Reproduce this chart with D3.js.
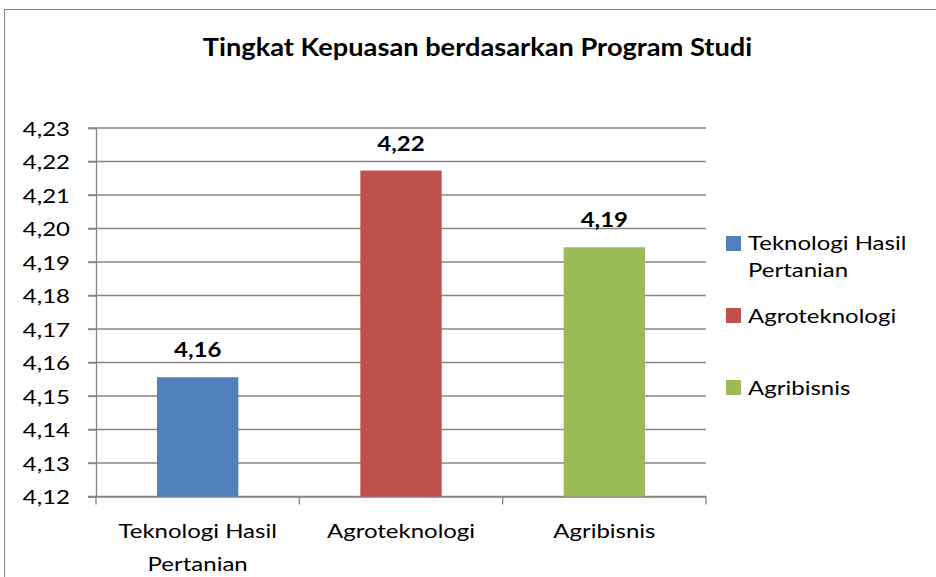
<!DOCTYPE html>
<html><head><meta charset="utf-8">
<script src="https://cdn.jsdelivr.net/npm/d3@7"></script>
<style>
body{margin:0;background:#fff;}
text{font-family:Lato,"Open Sans",sans-serif;fill:#000;}
</style></head>
<body><svg id="chart" width="936" height="577"></svg>
<script>
const categories = ["Teknologi Hasil Pertanian", "Agroteknologi", "Agribisnis"];
const categoryLines = [["Teknologi Hasil", "Pertanian"], ["Agroteknologi"], ["Agribisnis"]];
const values = [4.1556, 4.2173, 4.1944];
const labels = ["4,16", "4,22", "4,19"];
const colors = ["#4F81BD", "#C0504D", "#9BBB59"];
const yTicks = [4.12, 4.13, 4.14, 4.15, 4.16, 4.17, 4.18, 4.19, 4.20, 4.21, 4.22, 4.23];
const title = "Tingkat Kepuasan berdasarkan Program Studi";

const SX = 1.2; // horizontal stretch of the reference rendering
const svg = d3.select("#chart");
const loc = d3.formatLocale({decimal: ",", thousands: ".", grouping: [3], currency: ["", ""]});
const fmt = loc.format(".2f");

const plot = {left: 96, right: 706, top: 128, bottom: 496.5};
const x = d3.scaleBand().domain(categories).range([plot.left, plot.right]).paddingInner(0.6).paddingOuter(0.3);
const xb = d3.scaleBand().domain(categories).range([plot.left, plot.right]);
const y = d3.scaleLinear().domain([4.12, 4.23]).range([plot.bottom, plot.top]);

function stretchedText(parent, px, py, sx) {
  return parent.append("g").attr("transform", `translate(${px},${py}) scale(${sx},1)`).append("text");
}

// outer frame
svg.append("rect").attr("x", 4.5).attr("y", 9.5).attr("width", 1000).attr("height", 1000)
  .attr("fill", "#fff").attr("stroke", "#868686").attr("stroke-width", 1);

// title
stretchedText(svg, 477.5, 56, 1.09).attr("text-anchor", "middle")
  .style("font-size", "25px").style("font-weight", "bold").text(title);

// gridlines
svg.append("g").selectAll("line").data(yTicks).join("line")
  .attr("x1", plot.left - 8).attr("x2", plot.right)
  .attr("y1", d => y(d)).attr("y2", d => y(d))
  .attr("stroke", "#868686").attr("stroke-width", 1.3);

// y axis
const yAxis = d3.axisLeft(y).tickValues(yTicks).tickFormat(fmt).tickSize(8);
const gy = svg.append("g").attr("transform", `translate(${plot.left},0)`).attr("font-family", null).call(yAxis);
gy.attr("font-family", null).attr("font-size", null);
gy.select(".domain").attr("stroke", "#868686").attr("stroke-width", 1.3);
gy.selectAll(".tick line").attr("stroke", "#868686").attr("stroke-width", 1.3);
gy.selectAll(".tick text").attr("x", 0).attr("dy", "0.35em")
  .attr("transform", `translate(-26,0) scale(${SX},1)`)
  .style("font-size", "20px").attr("fill", "#000");

// x axis
const xAxis = d3.axisBottom(xb).tickSize(0).tickFormat("");
const gx = svg.append("g").attr("transform", `translate(0,${plot.bottom})`).call(xAxis);
gx.select(".domain").attr("stroke", "#868686").attr("stroke-width", 1.3);
const bounds = categories.map(c => xb(c)).concat([plot.right]);
gx.selectAll(".bt").data(bounds).join("line").attr("class", "bt")
  .attr("x1", d => d).attr("x2", d => d).attr("y1", 0).attr("y2", 8)
  .attr("stroke", "#868686").attr("stroke-width", 1.3);
categories.forEach((c, i) => {
  categoryLines[i].forEach((ln, j) => {
    stretchedText(gx, xb(c) + xb.bandwidth() / 2, 41.5 + j * 33, SX)
      .attr("text-anchor", "middle").style("font-size", "20px").text(ln);
  });
});

// bars
svg.append("g").selectAll("rect").data(values).join("rect")
  .attr("x", (d, i) => x(categories[i]))
  .attr("width", x.bandwidth())
  .attr("y", d => y(d))
  .attr("height", d => plot.bottom - y(d))
  .attr("fill", (d, i) => colors[i]);

// data labels
const lblG = svg.append("g");
values.forEach((v, i) => {
  stretchedText(lblG, x(categories[i]) + x.bandwidth() / 2, y(v) - 20, SX)
    .attr("text-anchor", "middle").style("font-size", "20px").style("font-weight", "bold")
    .text(labels[i]);
});

// legend
const legY = [[236, [250, 277]], [308, [323]], [380, [395]]];
const lg = svg.append("g");
categories.forEach((c, i) => {
  lg.append("rect").attr("x", 726).attr("y", legY[i][0]).attr("width", 15).attr("height", 15).attr("fill", colors[i]);
  categoryLines[i].forEach((ln, j) => {
    stretchedText(lg, 748, legY[i][1][j], SX).style("font-size", "20px").text(ln);
  });
});
</script></body></html>
